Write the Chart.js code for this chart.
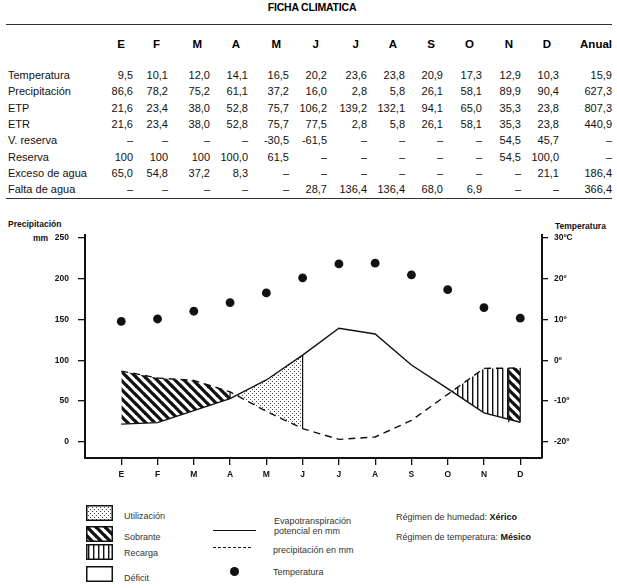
<!DOCTYPE html>
<html><head><meta charset="utf-8">
<script src="https://cdn.jsdelivr.net/npm/chart.js@4.4.0/dist/chart.umd.min.js"></script>
<style>
body{margin:0;width:617px;height:588px;background:#fff;position:relative;overflow:hidden;font-family:"Liberation Sans",Arial,sans-serif;color:#111}
.abs{position:absolute;white-space:nowrap}
#title{left:0;width:624px;text-align:center;top:1px;font-weight:bold;font-size:10.5px;letter-spacing:-0.2px;color:#000}
.rule{position:absolute;left:6px;width:606px;height:0;border-top:1.4px solid #333}
.cell{position:absolute;text-align:right;width:60px;font-size:11px;line-height:14px;white-space:nowrap}
.hcell{position:absolute;text-align:right;width:60px;font-size:11.5px;font-weight:bold;line-height:14px;color:#000}
.lab{position:absolute;left:8px;font-size:11px;line-height:14px;white-space:nowrap}
.axt{position:absolute;font-weight:bold;font-size:8.5px;white-space:nowrap}
.lg{position:absolute;font-size:9px;color:#333;white-space:nowrap;line-height:10px}
#chartWrap{position:absolute;left:0;top:205px;width:617px;height:290px}
</style></head>
<body>
<div id="title" class="abs">FICHA CLIMATICA</div>
<div class="rule" style="top:24px"></div>
<div id="table"></div>
<div class="rule" style="top:198px"></div>

<div class="axt" style="left:8px;top:219px">Precipitación</div>
<div class="axt" style="left:33px;top:233px">mm</div>
<div class="axt" style="left:555px;top:221px">Temperatura</div>

<div id="chartWrap"><canvas id="c" width="617" height="290"></canvas></div>

<div id="legend"></div>

<script>
// ---------- DATA ----------
const months = ['E','F','M','A','M','J','J','A','S','O','N','D'];
const temperatura   = [9.5,10.1,12.0,14.1,16.5,20.2,23.6,23.8,20.9,17.3,12.9,10.3];
const precipitacion = [86.6,78.2,75.2,61.1,37.2,16.0,2.8,5.8,26.1,58.1,89.9,90.4];
const etp           = [21.6,23.4,38.0,52.8,75.7,106.2,139.2,132.1,94.1,65.0,35.3,23.8];
const etr           = [21.6,23.4,38.0,52.8,75.7,77.5,2.8,5.8,26.1,58.1,35.3,23.8];
const vReserva      = [null,null,null,null,-30.5,-61.5,null,null,null,null,54.5,45.7];
const reservaTxt    = ['100','100','100','100,0','61,5','–','–','–','–','–','54,5','100,0'];
const exceso        = [65.0,54.8,37.2,8.3,null,null,null,null,null,null,null,21.1];
const falta         = [null,null,null,null,null,28.7,136.4,136.4,68.0,6.9,null,null];
const anual = {temperatura:'15,9', precipitacion:'627,3', etp:'807,3', etr:'440,9', vReserva:'–', reserva:'–', exceso:'186,4', falta:'366,4'};
const precipTicks = [0,50,100,150,200,250];
const tempTicks = [-20,-10,0,10,20,30];

// ---------- TABLE ----------
const fmt = v => v === null ? '–' : v.toFixed(1).replace('.', ',');
const colRight = [133,168,210,248,289,327,367,405,443,482,521,559,612];
const rows = [
  ['Temperatura', temperatura.map(fmt), anual.temperatura],
  ['Precipitación', precipitacion.map(fmt), anual.precipitacion],
  ['ETP', etp.map(fmt), anual.etp],
  ['ETR', etr.map(fmt), anual.etr],
  ['V. reserva', vReserva.map(fmt), anual.vReserva],
  ['Reserva', reservaTxt, anual.reserva],
  ['Exceso de agua', exceso.map(fmt), anual.exceso],
  ['Falta de agua', falta.map(fmt), anual.falta]
];
let html = '';
const headers = months.concat(['Anual']);
headers.forEach((h, i) => {
  const pad = i === 12 ? 0 : 8;
  html += `<div class="hcell" style="left:${colRight[i]-60-pad}px;top:37px">${h}</div>`;
});
rows.forEach((r, ri) => {
  const top = Math.round(68 + ri * 16.3);
  html += `<div class="lab" style="top:${top}px">${r[0]}</div>`;
  r[1].concat([r[2]]).forEach((v, ci) => {
    html += `<div class="cell" style="left:${colRight[ci]-60}px;top:${top}px">${v}</div>`;
  });
});
document.getElementById('table').innerHTML = html;

// ---------- PATTERNS ----------
function makePattern(kind) {
  const c = document.createElement('canvas');
  let w, h;
  if (kind === 'diag') { w = 9; h = 9; }
  else if (kind === 'dots') { w = 4; h = 4; }
  else { w = 5; h = 2; }
  c.width = w; c.height = h;
  const g = c.getContext('2d');
  g.fillStyle = '#fff'; g.fillRect(0, 0, w, h);
  g.fillStyle = '#111'; g.strokeStyle = '#111';
  if (kind === 'diag') {
    g.lineWidth = 3.3;
    for (let k = -1; k <= 1; k++) { g.beginPath(); g.moveTo(k * w - 1, -1); g.lineTo(k * w + w + 1, h + 1); g.stroke(); }
  } else if (kind === 'dots') {
    g.fillStyle = '#444';
    g.fillRect(0, 0, 1, 1); g.fillRect(2, 2, 1, 1);
  } else {
    g.fillRect(2, 0, 1.4, h);
  }
  return g.canvas;
}
const ctx = document.getElementById('c').getContext('2d');
const pDiag = ctx.createPattern(makePattern('diag'), 'repeat');
const pDots = ctx.createPattern(makePattern('dots'), 'repeat');
const pVert = ctx.createPattern(makePattern('vert'), 'repeat');
const none = 'rgba(0,0,0,0)';

// ---------- CHART DATA ----------
const pts = arr => arr.map((v, i) => ({x: i + 1, y: v}));
const sub = (arr, a, b) => arr.map((v, i) => ({x: i + 1, y: v})).slice(a - 1, b);
const last = 11;
// split of the December surplus: recharge first, then excess
const xSplit = 12 - exceso[last] / (precipitacion[last] - etp[last]);

const mmMin = -20, mmMax = 253.5;
const toTemp = v => (v - 100) / 5;
const black = '#111';
const edge = (x, y1, y2) => ({data: [{x, y: y1}, {x, y: y2}], borderColor: black, borderWidth: 1.2, pointRadius: 0, fill: false, yAxisID: 'y'});

const datasets = [
  {label: 'Temperatura', data: pts(temperatura), yAxisID: 'y2', showLine: false, pointRadius: 4.4, pointBackgroundColor: black, pointBorderColor: black, pointBorderWidth: 0},
  {label: 'ETP', data: pts(etp), yAxisID: 'y', borderColor: black, borderWidth: 1.4, pointRadius: 0, fill: false},
  {label: 'Precipitación', data: pts(precipitacion), yAxisID: 'y', borderColor: black, borderWidth: 1.4, borderDash: [7, 5], pointRadius: 0, fill: false},
  edge(4, etp[3], precipitacion[3]),
  edge(6, precipitacion[5], etp[5]),
  edge(xSplit, etp[last], precipitacion[last]),
  edge(12, etp[last], precipitacion[last]),
  {label: 'Sobrante dic', data: [{x: xSplit, y: precipitacion[last]}, {x: 12, y: precipitacion[last]}], yAxisID: 'y', borderWidth: 0, pointRadius: 0, fill: {target: 1, above: pDiag, below: pDiag}},
  {label: 'Recarga', data: sub(precipitacion, 10, 12), yAxisID: 'y', borderWidth: 0, pointRadius: 0, fill: {target: 1, above: pVert, below: none}},
  {label: 'Utilización', data: sub(precipitacion, 4, 6), yAxisID: 'y', borderWidth: 0, pointRadius: 0, fill: {target: 1, above: none, below: pDots}},
  {label: 'Sobrante', data: sub(precipitacion, 1, 4), yAxisID: 'y', borderWidth: 0, pointRadius: 0, fill: {target: 1, above: pDiag, below: none}}
];

const tickFont = {family: '"Liberation Sans", Arial, sans-serif', size: 8.5, weight: 'bold'};
new Chart(ctx, {
  type: 'line',
  data: {datasets},
  options: {
    responsive: false, animation: false, events: [],
    layout: {padding: {top: 30, left: 0, right: 0, bottom: 0}},
    plugins: {legend: {display: false}, tooltip: {enabled: false}},
    elements: {line: {tension: 0}},
    scales: {
      x: {
        type: 'linear', min: 0, max: 12.6,
        afterFit(s) { s.height = 37; },
        afterBuildTicks(s) { s.ticks = months.map((m, i) => ({value: i + 1})); },
        ticks: {callback: v => months[v - 1], font: tickFont, color: black, padding: 5, maxRotation: 0, autoSkip: false},
        grid: {drawOnChartArea: false, tickLength: 7, color: black, lineWidth: 1.3},
        border: {color: black, width: 2}
      },
      y: {
        position: 'left', min: mmMin, max: mmMax,
        afterFit(s) { s.width = 85; },
        afterBuildTicks(s) { s.ticks = precipTicks.map(v => ({value: v})); },
        ticks: {font: tickFont, color: black, padding: 9},
        grid: {drawOnChartArea: false, tickLength: 7, color: black, lineWidth: 1.3},
        border: {color: black, width: 2}
      },
      y2: {
        position: 'right', min: toTemp(mmMin), max: toTemp(mmMax),
        afterFit(s) { s.width = 75; },
        afterBuildTicks(s) { s.ticks = tempTicks.map(v => ({value: v})); },
        ticks: {font: tickFont, color: black, padding: 6, callback: v => v === 30 ? '30ºC' : v + 'º'},
        grid: {drawOnChartArea: false, tickLength: 6, color: black, lineWidth: 1.3},
        border: {color: black, width: 2}
      }
    }
  }
});

// ---------- LEGEND ----------
function swatch(left, top, kind) {
  const c = document.createElement('canvas');
  c.width = 27; c.height = 16;
  c.style.cssText = `position:absolute;left:${left}px;top:${top}px`;
  const g = c.getContext('2d');
  g.fillStyle = '#fff'; g.fillRect(0, 0, 27, 16);
  if (kind) { g.fillStyle = g.createPattern(makePattern(kind), 'repeat'); g.fillRect(1, 1, 25, 14); }
  g.strokeStyle = '#111'; g.lineWidth = 1.5; g.strokeRect(0.75, 0.75, 25.5, 14.5);
  document.body.appendChild(c);
}
swatch(86, 505, 'dots');
swatch(86, 526, 'diag');
swatch(86, 544, 'vert');
swatch(86, 566, null);
let lg = '';
lg += `<div class="lg" style="left:124px;top:511px">Utilización</div>`;
lg += `<div class="lg" style="left:124px;top:532px">Sobrante</div>`;
lg += `<div class="lg" style="left:124px;top:548px">Recarga</div>`;
lg += `<div class="lg" style="left:124px;top:573px">Déficit</div>`;
lg += `<div style="position:absolute;left:213px;top:530px;width:43px;border-top:1.4px solid #111"></div>`;
lg += `<div style="position:absolute;left:213px;top:547px;width:38px;border-top:1.4px dashed #111"></div>`;
lg += `<div style="position:absolute;left:230px;top:567px;width:9px;height:9px;border-radius:50%;background:#111"></div>`;
lg += `<div class="lg" style="left:274px;top:516px">Evapotranspiración<br>potencial en mm</div>`;
lg += `<div class="lg" style="left:273px;top:545px">precipitación en mm</div>`;
lg += `<div class="lg" style="left:273px;top:567px">Temperatura</div>`;
lg += `<div class="lg" style="left:396px;top:512px">Régimen de humedad: <b style="color:#111">Xérico</b></div>`;
lg += `<div class="lg" style="left:396px;top:532px">Régimen de temperatura: <b style="color:#111">Mésico</b></div>`;
document.getElementById('legend').innerHTML = lg;
</script>
</body></html>
